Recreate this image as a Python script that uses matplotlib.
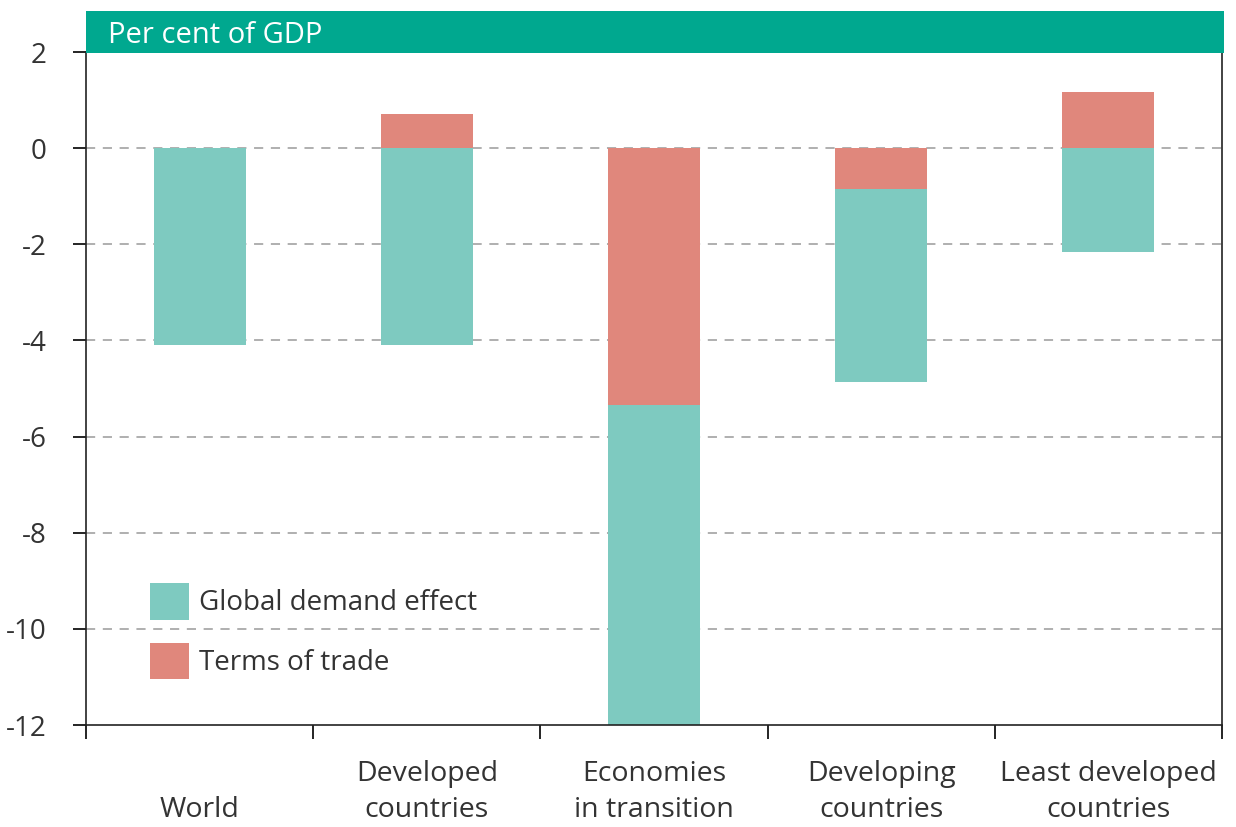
import numpy as np
import matplotlib.pyplot as plt
from matplotlib.patches import Rectangle

categories = ["\nWorld", "Developed\ncountries", "Economies\nin transition",
              "Developing\ncountries", "Least developed\ncountries"]
demand_effect = [-4.1, -4.1, -7.0, -4.02, -2.15]
terms_of_trade = [0.0, 0.72, -5.35, -0.84, 1.18]
y_ticks = [2, 0, -2, -4, -6, -8, -10, -12]

teal = "#7ECAC0"
salmon = "#E0877C"
bar_green = "#00A88F"
text_col = "#333333"

plt.rcParams['font.family'] = ['Open Sans', 'DejaVu Sans']

fig = plt.figure(figsize=(12.36, 8.27), dpi=100)
ax = fig.add_axes([0.0696, 0.1233, 0.9191, 0.8137])

x = np.arange(len(categories))
tot = np.array(terms_of_trade)
dem = np.array(demand_effect)
# demand sits beyond terms of trade when both point the same way
dem_bottom = np.where(np.sign(tot) == np.sign(dem), tot, 0.0)

ax.bar(x, dem, width=0.405, bottom=dem_bottom, color=teal, zorder=2,
       label="Global demand effect")
ax.bar(x, tot, width=0.405, color=salmon, zorder=2, label="Terms of trade")

ax.set_xlim(-0.5, len(categories) - 0.5)
ax.set_ylim(-12, 2)
ax.set_yticks(y_ticks)
ax.set_yticklabels([str(v) for v in y_ticks])
for v in y_ticks[1:-1]:
    ax.axhline(v, color="#9a9a9a", lw=1.1, ls=(0, (6, 5)), zorder=1)

ax.set_xticks(x)
ax.set_xticklabels(categories, fontsize=20.5, color=text_col, linespacing=1.38)
ax.set_xticks(np.arange(len(categories) + 1) - 0.5, minor=True)
ax.tick_params(axis='x', which='major', length=0, pad=25)
ax.tick_params(axis='x', which='minor', length=10, width=1.2, direction='out')
ax.tick_params(axis='y', length=9.5, width=1.2, labelsize=20, labelcolor=text_col, pad=19)

ax.spines['top'].set_visible(False)
for s in ['left', 'right', 'bottom']:
    ax.spines[s].set_linewidth(1.2)
    ax.spines[s].set_color("#222222")

ax.legend(loc='lower left', bbox_to_anchor=(0.0563, 0.068), frameon=False,
          borderaxespad=0, borderpad=0,
          fontsize=20, handlelength=1.42, handleheight=1.65, handletextpad=0.36,
          labelspacing=0.83, labelcolor=text_col)

fig.patches.append(Rectangle((0.0696, 0.936), 0.921, 0.0508, transform=fig.transFigure,
                             facecolor=bar_green, edgecolor='none', zorder=0))
fig.text(0.0874, 0.957, "Per cent of GDP", color="white", fontsize=21, va='center', ha='left')

fig.savefig("out.png", dpi=100)
